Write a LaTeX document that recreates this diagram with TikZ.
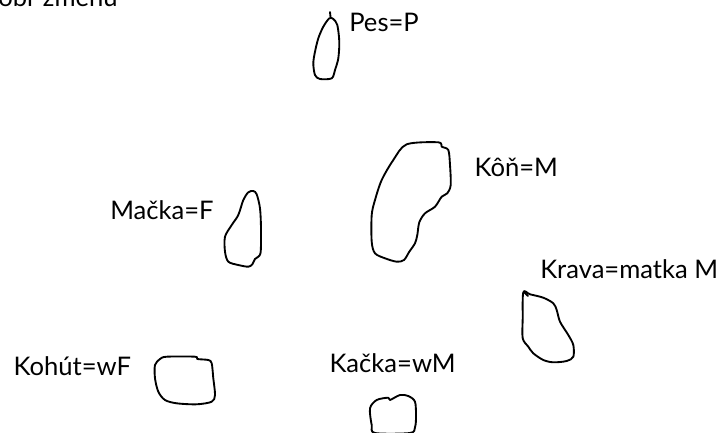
\documentclass[tikz,border=0pt]{standalone}
\usepackage{fontspec}
\setmainfont{Lato}
\begin{document}
\begin{tikzpicture}[x=0.75pt,y=-0.75pt,
  lbl/.style={anchor=base west,inner sep=0pt,font=\fontsize{19.2pt}{22pt}\selectfont},
  blob/.style={draw=black,line width=1.4pt,line join=round,line cap=round}]
\useasboundingbox (0,0) rectangle (724,432);
\clip (0,0) rectangle (724,432);
\fill[white] (0,0) rectangle (724,432);
% labels
\node[lbl] (obr) at (-2,7) {obr zmenu};
\node[lbl] (pes) at (349,31.7) {Pes=P};
\node[lbl] (kon) at (474.3,176.7) {Kôň=M};
\node[lbl] (macka) at (110,219.3) {Mačka=F};
\node[lbl] (krava) at (540,278.3) {Krava=matka M};
\node[lbl] (kohut) at (13.3,375) {Kohút=wF};
\node[lbl] (kacka) at (329.3,372.3) {Kačka=wM};
% Pes blob
\draw[blob] plot[smooth cycle,tension=0.5] coordinates {(329.3,18.3) (323.3,26.7) (318.3,38.3) (315,51.7) (313.3,63.3) (315,75) (320,79) (331.7,78.3) (335,70) (338.3,58.3) (339.3,41.7) (337.3,25) (333.3,19)};
\draw[blob] (330,12) -- (330.5,17);
% Kon blob
\draw[blob] plot[smooth cycle,tension=0.5] coordinates {(406.7,144.3) (438.3,142.3) (441.7,146.7) (448.3,150) (450,165) (450.7,185) (447.3,193.3) (441.7,196.7) (435,206.7) (425,213.3) (419.3,222.3) (417.3,235) (415,243.3) (409.3,251.7) (404,260) (396.7,261.7) (385,258.3) (375,253.3) (371.7,241.7) (371.7,215) (375,200) (381.7,180) (393.3,160)};
% Macka blob
\draw[blob] plot[smooth cycle,tension=0.5] coordinates {(253.3,191) (256.7,194.3) (260,208.3) (261,228.3) (260.7,251.7) (258.3,256.7) (255,259) (252.3,264.3) (248.3,266.7) (238.3,265) (228.3,261.7) (225,251.7) (225,236.7) (231.7,225) (238.3,215) (243.3,200) (248.3,192.3)};
% Krava blob
\draw[blob] plot[smooth cycle,tension=0.5] coordinates {(523.3,292.3) (530,294.3) (543.3,297.7) (553.3,303.3) (556.7,310) (560,321.7) (568.3,335) (573.3,345) (573.3,356.7) (566.7,361) (553.3,362.3) (543.3,360) (533.3,353.3) (528.3,346.7) (522.7,338.3) (522.7,318.3)};
\draw[blob] (524,292) -- (528,296);
% Kohut blob
\draw[blob] plot[smooth cycle,tension=0.5] coordinates {(166.7,356.7) (195,356.7) (197.3,359) (208.3,360) (211.7,363.3) (213.3,378.3) (215,395) (211.7,401.7) (196.7,404.3) (176.7,403.3) (165,400) (158.3,391.7) (155,378.3) (155,365) (160,359)};
% Kacka blob
\draw[blob] plot[smooth cycle,tension=0.5] coordinates {(370,408.3) (376.7,400) (388.3,397.7) (390,400) (400,395) (408.3,396) (415,401.7) (416,416.7) (415,427.3) (410,433) (375,433) (371.7,425)};
\end{tikzpicture}
\end{document}
